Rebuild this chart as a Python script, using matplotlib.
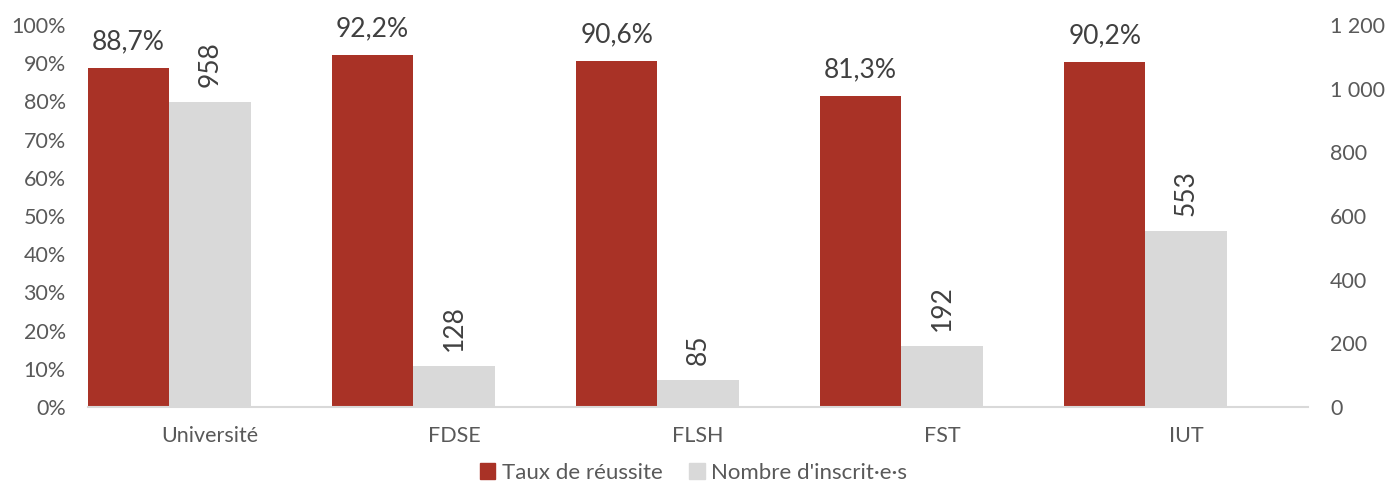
import matplotlib.pyplot as plt
import matplotlib.ticker as mticker
import numpy as np

categories = ["Université", "FDSE", "FLSH", "FST", "IUT"]
taux_reussite = [88.7, 92.2, 90.6, 81.3, 90.2]
nb_inscrits = [958, 128, 85, 192, 553]

RED = "#A93226"
GREY = "#D9D9D9"
TXT = "#595959"
LBL = "#404040"

plt.rcParams['font.family'] = ['Lato', 'DejaVu Sans']


def fr_number(v, pos=None):
    return "{:,}".format(int(v)).replace(",", " ")


def main():
    fig = plt.figure(figsize=(13.87, 4.83), dpi=100)
    ax = fig.add_axes([88 / 1387, 1 - 407 / 483, 1220 / 1387, 382 / 483])
    ax2 = ax.twinx()

    x = np.arange(len(categories))
    w = 1 / 3
    bars1 = ax.bar(x - w, taux_reussite, width=w, color=RED, zorder=2)
    bars2 = ax2.bar(x, nb_inscrits, width=w, color=GREY, zorder=2)

    ax.set_xlim(-0.5, len(categories) - 0.5)
    ax.set_ylim(0, 100)
    ax2.set_ylim(0, 1200)
    ax.set_yticks(np.arange(0, 101, 10))
    ax2.set_yticks(np.arange(0, 1201, 200))
    ax.yaxis.set_major_formatter(mticker.FuncFormatter(lambda v, p: "{:d}%".format(int(v))))
    ax2.yaxis.set_major_formatter(mticker.FuncFormatter(fr_number))

    ax.set_xticks(x)
    ax.set_xticklabels(categories)

    for a in (ax, ax2):
        for s in a.spines.values():
            s.set_visible(False)
        a.tick_params(length=0, labelsize=15.5, labelcolor=TXT)
    ax.spines['bottom'].set_visible(True)
    ax.spines['bottom'].set_color(GREY)
    ax.spines['bottom'].set_linewidth(1.5)
    ax.tick_params(axis='y', pad=16)
    ax.tick_params(axis='x', pad=14)
    ax2.tick_params(axis='y', pad=16)

    ax.bar_label(bars1, labels=["{:.1f}%".format(v).replace(".", ",") for v in taux_reussite],
                 padding=10, fontsize=19, color=LBL)
    ax2.bar_label(bars2, labels=[fr_number(v) for v in nb_inscrits],
                  padding=11, fontsize=19, color=LBL, rotation=90)

    handles = [plt.Rectangle((0, 0), 1, 1, color=RED), plt.Rectangle((0, 0), 1, 1, color=GREY)]
    fig.legend(handles, ["Taux de réussite", "Nombre d'inscrit·e·s"], loc='center',
               bbox_to_anchor=(0.5, 1 - 473 / 483), ncol=2, frameon=False, fontsize=16,
               labelcolor=TXT, handlelength=0.7, handleheight=0.7, handletextpad=0.3,
               columnspacing=1.2)

    fig.savefig('out.png', dpi=100)


if __name__ == "__main__":
    main()
